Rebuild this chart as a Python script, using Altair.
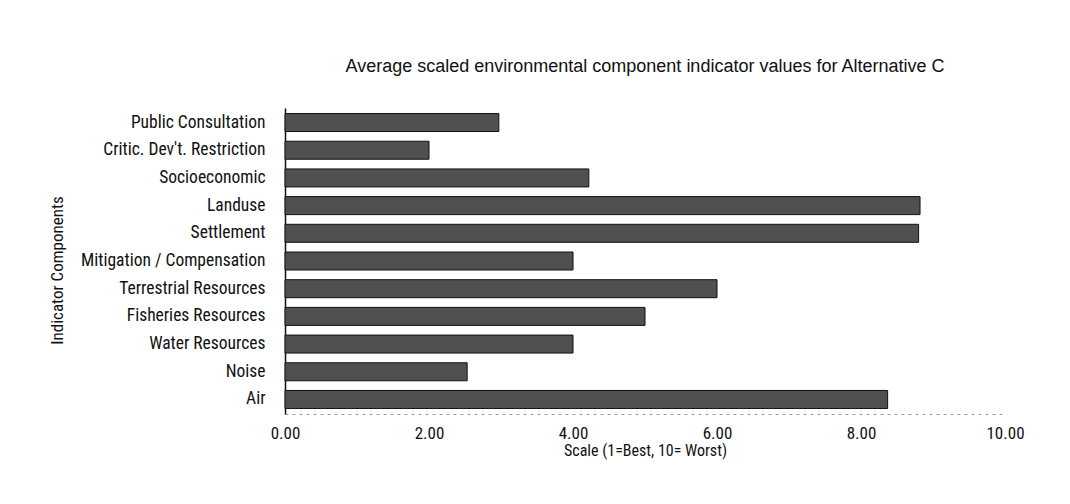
import altair as alt
import pandas as pd

categories = [
    "Public  Consultation",
    "Critic. Dev't.  Restriction",
    "Socioeconomic",
    "Landuse",
    "Settlement",
    "Mitigation / Compensation",
    "Terrestrial Resources",
    "Fisheries Resources",
    "Water Resources",
    "Noise",
    "Air",
]
values = [2.97, 2.0, 4.22, 8.82, 8.8, 4.0, 6.0, 5.0, 4.0, 2.53, 8.37]
x_ticks = [0, 2, 4, 6, 8, 10]

df = pd.DataFrame({"component": categories, "value": values})

FONT = "Liberation Sans Narrow, Arial Narrow, Roboto Condensed, Liberation Sans, sans-serif"
TFONT = "Liberation Sans, Arial, sans-serif"

bars = alt.Chart(df).mark_bar(
    color="#505050", stroke="#111111", strokeWidth=1
).encode(
    x=alt.X(
        "value:Q",
        scale=alt.Scale(domain=[0, 10], nice=False),
        axis=alt.Axis(
            values=x_ticks,
            format=".2f",
            title="Scale (1=Best, 10= Worst)",
            grid=False,
            ticks=False,
            domain=True,
            domainColor="#9a9a9a",
            domainDash=[3, 4],
            labelFlush=False,
            labelFontSize=17,
            labelPadding=11,
            labelColor="#111111",
            titleFontSize=16,
            titleFontWeight="normal",
            titlePadding=1,
            titleColor="#111111",
        ),
    ),
    y=alt.Y(
        "component:N",
        sort=categories,
        scale=alt.Scale(paddingInner=0.35, paddingOuter=0.2),
        axis=alt.Axis(
            title="Indicator Components",
            ticks=False,
            grid=False,
            domain=True,
            domainColor="#111111",
            domainWidth=1.5,
            labelFontSize=17.5,
            labelPadding=20,
            labelLimit=300,
            labelColor="#111111",
            titleFontSize=17,
            titleFontWeight="normal",
            titleColor="#111111",
            titleX=-228,
            titleY=162,
            titleAlign="center",
            titleBaseline="middle",
            titleAngle=270,
        ),
    ),
)

chart = bars.properties(
    width=720,
    height=306,
    title=alt.TitleParams(
        "Average scaled environmental component indicator values for Alternative C",
        fontSize=18,
        font=TFONT,
        fontWeight="normal",
        color="#111111",
        anchor="middle",
        offset=32,
    ),
    padding={"left": 277, "top": 100, "right": 40, "bottom": 70},
    autosize=alt.AutoSizeParams(type="none"),
).configure(font=FONT).configure_view(stroke=None).configure_axis(
    labelFont=FONT, titleFont=FONT
)

chart.save("out.html", embed_options={"renderer": "svg", "actions": False})
